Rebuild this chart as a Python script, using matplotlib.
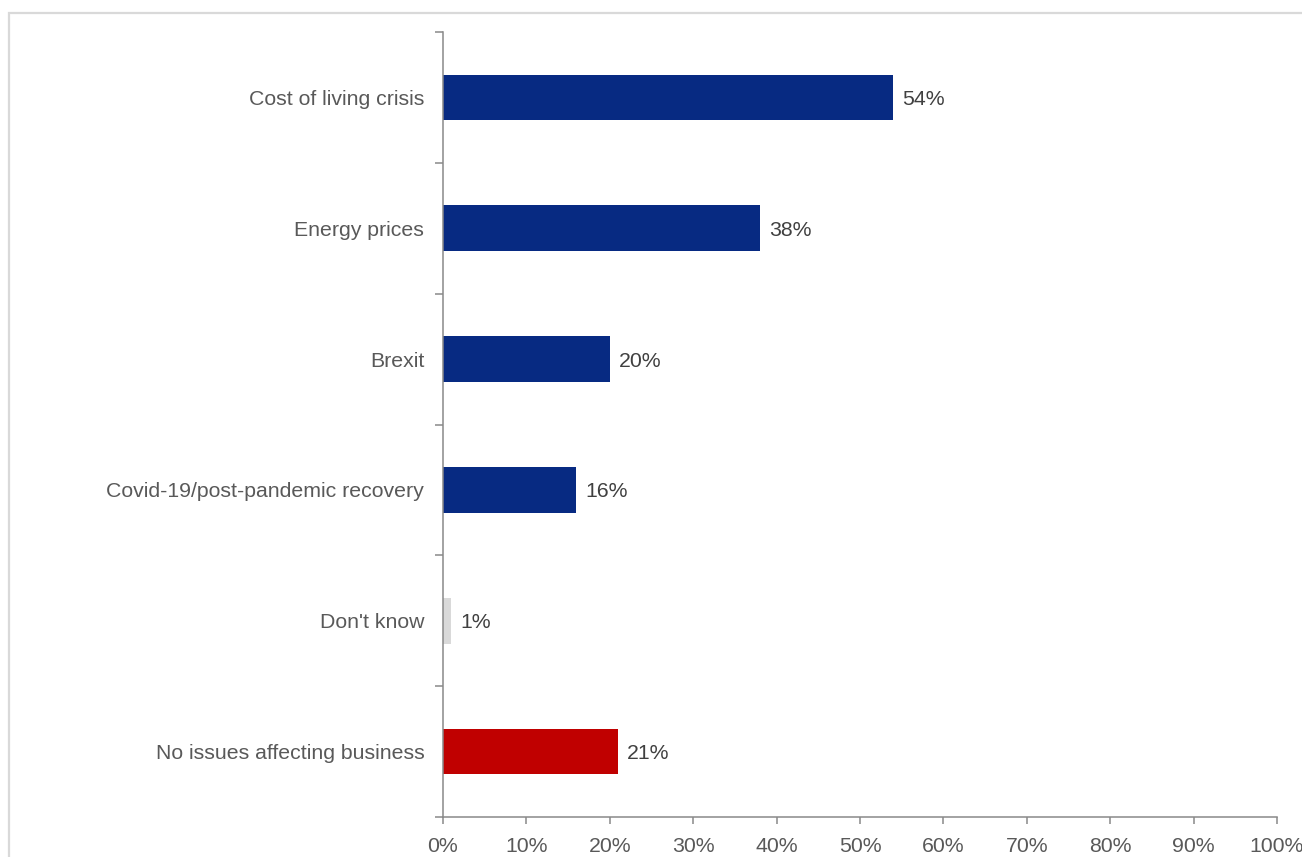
import matplotlib
matplotlib.use("Agg")
import matplotlib.pyplot as plt
import matplotlib.patches as mpatches
import numpy as np
from matplotlib.ticker import FixedLocator, PercentFormatter

plt.rcParams['font.family'] = ['Liberation Sans', 'DejaVu Sans']

# --- data ---
categories = ["Cost of living crisis", "Energy prices", "Brexit",
              "Covid-19/post-pandemic recovery", "Don't know",
              "No issues affecting business"]
values = [54, 38, 20, 16, 1, 21]
bar_colors = ["#072A82", "#072A82", "#072A82", "#072A82", "#D9D9D9", "#C00000"]

text_grey = "#595959"
label_grey = "#404040"
axis_grey = "#898989"
fs = 15.3

fig = plt.figure(figsize=(13.02, 8.57), dpi=100)
ax = fig.add_axes([443 / 1302, 1 - 817 / 857, (1277 - 443) / 1302, (817 - 32) / 857])

# light frame around the chart (runs off the right and bottom edges)
frame = mpatches.Rectangle((8.5 / 1302, -0.1), 1.2, 1.1 - 12.5 / 857,
                           transform=fig.transFigure, fill=False,
                           edgecolor="#D9D9D9", linewidth=1.6, zorder=0)
fig.patches.append(frame)

y = np.arange(len(categories))
ax.barh(y, values, height=0.35, color=bar_colors, zorder=2)

for yi, v in zip(y, values):
    ax.text(v + 1.1, yi + 0.015, f"{v}%", va="center", ha="left",
            fontsize=fs, color=label_grey)

ax.set_xlim(0, 100)
ax.set_ylim(len(categories) - 0.5, -0.5)

ax.set_xticks(np.arange(0, 101, 10))
ax.xaxis.set_major_formatter(PercentFormatter(decimals=0))

ax.set_yticks(y)
ax.set_yticklabels(categories)
ax.yaxis.set_minor_locator(FixedLocator(np.arange(-0.5, len(categories), 1)))
ax.tick_params(axis="y", which="major", length=0, pad=13.5, labelsize=fs,
               labelcolor=text_grey)
ax.tick_params(axis="y", which="minor", length=6, width=1.1, color=axis_grey)
ax.tick_params(axis="x", which="major", length=5, width=1.1, color=axis_grey,
               pad=9.5, labelsize=fs, labelcolor=text_grey)

for side in ["top", "right"]:
    ax.spines[side].set_visible(False)
for side in ["left", "bottom"]:
    ax.spines[side].set_color(axis_grey)
    ax.spines[side].set_linewidth(1.1)

fig.savefig("out.png", dpi=100)
